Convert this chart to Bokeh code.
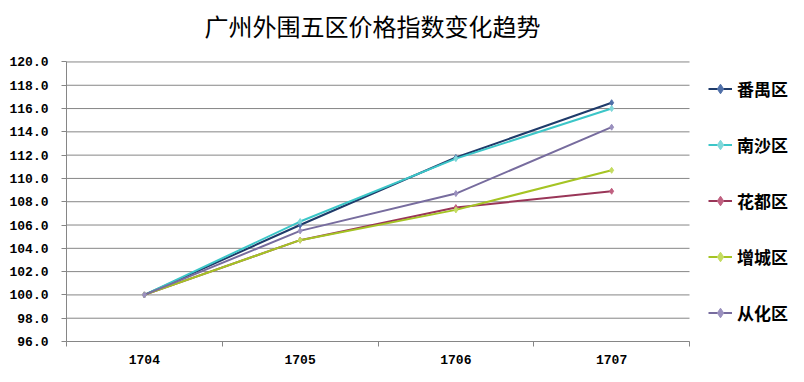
from bokeh.plotting import figure
from bokeh.models import (FixedTicker, NumeralTickFormatter, Legend, LegendItem, Label, Range1d)
from bokeh.embed import file_html
from bokeh.resources import INLINE

title_text = "广州外围五区价格指数变化趋势"
months = ["1704", "1705", "1706", "1707"]
panyu = [100.0, 106.0, 111.8, 116.5]
nansha = [100.0, 106.3, 111.7, 116.0]
huadu = [100.0, 104.7, 107.5, 108.9]
zengcheng = [100.0, 104.7, 107.3, 110.7]
conghua = [100.0, 105.5, 108.7, 114.4]
y_ticks = [96, 98, 100, 102, 104, 106, 108, 110, 112, 114, 116, 118, 120]

series = [
    ("番禺区", panyu, "#1F3B6A", "#4F6FA8"),
    ("南沙区", nansha, "#3CC6C8", "#7FD8DA"),
    ("花都区", huadu, "#993658", "#C06080"),
    ("增城区", zengcheng, "#A5C424", "#C4DC60"),
    ("从化区", conghua, "#776C9E", "#9A90BE"),
]

xs = list(range(len(months)))
x_lo, x_hi = -0.5, len(months) - 0.5
y_lo, y_hi = y_ticks[0], y_ticks[-1]

# layout: plot area 66..689 x 62..344 px; the frame extends to the top/right
W, H = 788, 366
left, bottom = 66, 22
plot_w, plot_h = 623, 282
px_x = plot_w / (x_hi - x_lo)
px_y = plot_h / (y_hi - y_lo)
frame_w, frame_h = W - left, H - bottom

p = figure(width=W, height=H, output_backend="svg", toolbar_location=None,
           x_range=Range1d(x_lo, x_lo + frame_w / px_x),
           y_range=Range1d(y_lo, y_lo + frame_h / px_y),
           min_border_left=left, min_border_right=0, min_border_top=0, min_border_bottom=bottom,
           background_fill_color="white", border_fill_color="white")
p.outline_line_color = None

# axes
p.xaxis.bounds = (x_lo, x_hi)
p.xaxis.ticker = FixedTicker(ticks=xs, minor_ticks=[i - 0.5 for i in range(len(months) + 1)])
p.xaxis.major_label_overrides = {i: m for i, m in enumerate(months)}
p.xaxis.major_tick_out = 0
p.xaxis.major_tick_in = 0
p.xaxis.minor_tick_out = 5
p.xaxis.minor_tick_in = 0
p.xaxis.minor_tick_line_color = "#868686"
p.xaxis.axis_line_color = "#868686"
p.xaxis.major_label_standoff = 8
p.xaxis.major_label_text_font = "Liberation Mono"
p.xaxis.major_label_text_font_style = "bold"
p.xaxis.major_label_text_font_size = "13px"
p.xaxis.major_label_text_color = "black"

p.yaxis.bounds = (y_lo, y_hi)
p.yaxis.ticker = FixedTicker(ticks=y_ticks, minor_ticks=[])
p.yaxis.formatter = NumeralTickFormatter(format="0.0")
p.yaxis.major_tick_out = 5
p.yaxis.major_tick_in = 0
p.yaxis.minor_tick_line_color = None
p.yaxis.major_tick_line_color = "#868686"
p.yaxis.axis_line_color = "#868686"
p.yaxis.major_label_standoff = 13
p.yaxis.major_label_text_font = "Liberation Mono"
p.yaxis.major_label_text_font_style = "bold"
p.yaxis.major_label_text_font_size = "13px"
p.yaxis.major_label_text_color = "black"

p.xgrid.grid_line_color = None
p.ygrid.grid_line_color = None

# horizontal gridlines limited to the plot area
p.segment(x0=[x_lo] * len(y_ticks), x1=[x_hi] * len(y_ticks), y0=y_ticks, y1=y_ticks,
          line_color="#868686", line_width=1)

items = []
for name, vals, col, mcol in series:
    lr = p.line(xs, vals, line_color=col, line_width=2)
    sr = p.scatter(xs, vals, marker="diamond", size=6, fill_color=mcol, line_color=mcol)
    items.append(LegendItem(label=name, renderers=[lr, sr]))

legend = Legend(items=items, location=(642, 16), orientation="vertical",
                padding=0, margin=0, spacing=31, glyph_width=24, glyph_height=25,
                label_height=25, label_standoff=5, border_line_color=None,
                background_fill_alpha=0,
                label_text_font="Noto Sans CJK SC", label_text_font_size="17px",
                label_text_font_style="bold", label_text_color="black")
p.add_layout(legend, "center")

title = Label(x=306, y=316, x_units="screen", y_units="screen", text=title_text,
              text_font="Noto Sans CJK SC", text_font_size="24px",
              text_align="center", text_baseline="middle", text_color="black")
p.add_layout(title)

open("out.html", "w").write(file_html(p, INLINE))
